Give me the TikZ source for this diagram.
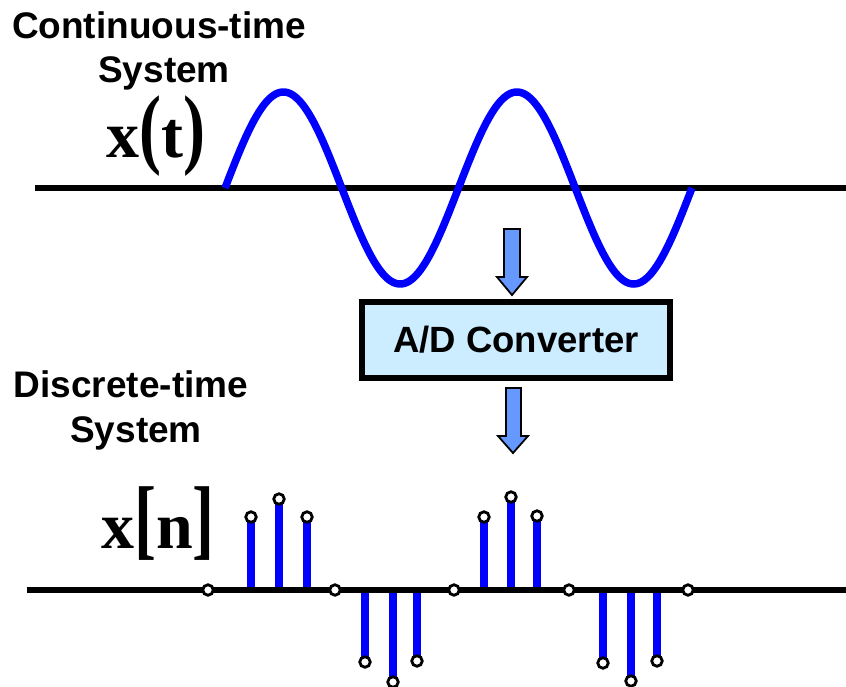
\documentclass[tikz,border=0pt]{standalone}
\usepackage{fontspec}
\setmainfont{Liberation Serif}
\newfontfamily\lsans{Liberation Sans}
\definecolor{wblue}{HTML}{0000FF}
\definecolor{afill}{HTML}{6699FF}
\definecolor{boxfill}{HTML}{CCECFF}
\begin{document}
\begin{tikzpicture}[x=1pt,y=-1pt,
  lbl/.style={font=\lsans\bfseries\fontsize{37}{37}\selectfont, inner sep=0, anchor=base},
  sig/.style={font=\bfseries\fontsize{66}{66}\selectfont, inner sep=0, anchor=base west},
  axisline/.style={line width=5.5pt, draw=black},
  wave/.style={line width=7.5pt, draw=wblue},
  stemline/.style={line width=8pt, draw=wblue},
  dot/.style={circle, draw=black, fill=white, line width=2.8pt, inner sep=0pt, minimum size=10.5pt},
  blk/.style={fill=afill, draw=black, line width=1.8pt, line join=miter},
  convbox/.style={draw=black, line width=6pt, fill=boxfill, minimum width=308pt, minimum height=76pt, inner sep=0pt,
    font=\lsans\bfseries\fontsize{36.5}{36.5}\selectfont}]
\useasboundingbox (0,0) rectangle (846,686);

% labels
\node[lbl] (ct1) at (159,38) {Continuous-time};
\node[lbl] (ct2) at (164,82) {System};
\node[lbl] (dt1) at (131,397) {Discrete-time};
\node[lbl] (dt2) at (136,442) {System};
\node[sig] (xt) at (106,157) {x\scalebox{1}[1.35]{(}t\scalebox{1}[1.35]{)}};
\node[sig] (xn) at (101,548) {x\scalebox{1}[1.35]{[}n\scalebox{1}[1.35]{]}};

% continuous-time axis and wave
\coordinate (ta0) at (35,188);
\coordinate (ta1) at (846,188);
\draw[axisline] (ta0) -- (ta1);
\draw[wave] plot[domain=0:467, samples=240, smooth] ({225+\x}, {188-96*sin(\x*1.54176)});

% converter box and block arrows
\node[convbox] (ad) at (516,340) {A/D Converter};
\draw[blk] (504,229) -- (520,229) -- (520,277) -- (527,277) -- (512,295) -- (497,277) -- (504,277) -- cycle;
\draw[blk] (506,388) -- (521,388) -- (521,436) -- (528,436) -- (513,453) -- (498,436) -- (506,436) -- cycle;

% discrete-time stems
\foreach \x/\y in {251/517, 279/499, 307/517, 484/517, 511/497, 537/516,
                   365/662, 393/682, 417/661, 603/663, 631/681, 657/661}
  \draw[stemline] (\x,590) -- (\x,\y);
\coordinate (ba0) at (27,590);
\coordinate (ba1) at (846,590);
\draw[axisline] (ba0) -- (ba1);
\foreach \x/\y [count=\i] in {251/517, 279/499, 307/517, 484/517, 511/497, 537/516,
                   365/662, 393/682, 417/661, 603/663, 631/681, 657/661,
                   208/590, 335/590, 454/590, 569/590, 688/590}
  \node[dot] (s\i) at (\x,\y) {};
\end{tikzpicture}
\end{document}
